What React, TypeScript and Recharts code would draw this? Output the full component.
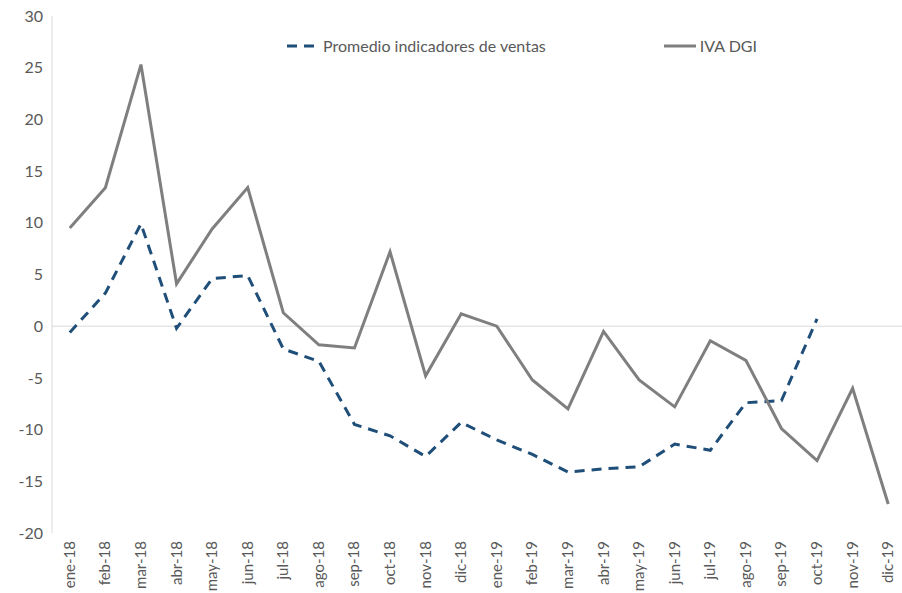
import { LineChart, Line, XAxis, YAxis, ReferenceLine } from "recharts";

const months = [
  "ene-18", "feb-18", "mar-18", "abr-18", "may-18", "jun-18",
  "jul-18", "ago-18", "sep-18", "oct-18", "nov-18", "dic-18",
  "ene-19", "feb-19", "mar-19", "abr-19", "may-19", "jun-19",
  "jul-19", "ago-19", "sep-19", "oct-19", "nov-19", "dic-19",
];

const promedioVentas: (number | null)[] = [
  -0.6, 3.2, 9.9, -0.2, 4.6, 4.9,
  -2.2, -3.4, -9.5, -10.6, -12.6, -9.3,
  -11.0, -12.4, -14.1, -13.8, -13.6, -11.4,
  -12.0, -7.4, -7.2, 0.7, null, null,
];

const ivaDgi = [
  9.5, 13.4, 25.3, 4.1, 9.4, 13.4,
  1.3, -1.8, -2.1, 7.2, -4.8, 1.2,
  0.0, -5.2, -8.0, -0.5, -5.2, -7.8,
  -1.4, -3.3, -9.9, -13.0, -6.0, -17.2,
];

const yTicks = [-20, -15, -10, -5, 0, 5, 10, 15, 20, 25, 30];

const data = months.map((m, i) => ({
  month: m,
  promedio: promedioVentas[i],
  iva: ivaDgi[i],
}));

const FONT = "Lato, 'Open Sans', sans-serif";
const TEXT = "#595959";

function MonthTick(props: any) {
  const { x, payload } = props;
  return (
    <text
      x={x + 5}
      y={541}
      transform={`rotate(-90, ${x + 5}, 541)`}
      textAnchor="end"
      fill={TEXT}
      fontSize={15}
      fontFamily={FONT}
    >
      {payload.value}
    </text>
  );
}

function LegendBox() {
  return (
    <div
      style={{
        position: "absolute",
        left: 287,
        top: 36,
        display: "flex",
        alignItems: "center",
        fontFamily: FONT,
        fontSize: 16,
        color: TEXT,
        whiteSpace: "nowrap",
      }}
    >
      <svg width={31} height={6} style={{ marginRight: 5 }}>
        <line x1={0} y1={3} x2={31} y2={3} stroke="#1f4e79" strokeWidth={3} strokeDasharray="10 7" />
      </svg>
      <span style={{ marginRight: 118 }}>Promedio indicadores de ventas</span>
      <svg width={32} height={6} style={{ marginRight: 4 }}>
        <line x1={0} y1={3} x2={32} y2={3} stroke="#7f7f7f" strokeWidth={3} />
      </svg>
      <span>IVA DGI</span>
    </div>
  );
}

export default function App() {
  return (
    <div style={{ position: "absolute", left: 0, top: 0, width: 902, height: 593, overflow: "hidden", background: "#fff" }}>
      <LineChart width={906} height={593} data={data} margin={{ top: 16, right: 0, bottom: 0, left: 0 }}>
        <XAxis
          dataKey="month"
          axisLine={false}
          tickLine={false}
          height={60}
          interval={0}
          padding={{ left: 17.8, right: 17.8 }}
          tick={<MonthTick />}
        />
        <YAxis
          domain={[-20, 30]}
          ticks={yTicks}
          width={52}
          axisLine={{ stroke: "#d9d9d9", strokeWidth: 1 }}
          tickLine={false}
          tickSize={0}
          tickMargin={9}
          tick={{ fill: TEXT, fontSize: 16, fontFamily: FONT }}
        />
        <ReferenceLine y={0} stroke="#d9d9d9" strokeWidth={1} />
        <Line
          type="linear"
          dataKey="promedio"
          stroke="#1f4e79"
          strokeWidth={3}
          strokeDasharray="10 7"
          dot={false}
          isAnimationActive={false}
        />
        <Line
          type="linear"
          dataKey="iva"
          stroke="#7f7f7f"
          strokeWidth={3}
          dot={false}
          isAnimationActive={false}
        />
      </LineChart>
      <LegendBox />
    </div>
  );
}
